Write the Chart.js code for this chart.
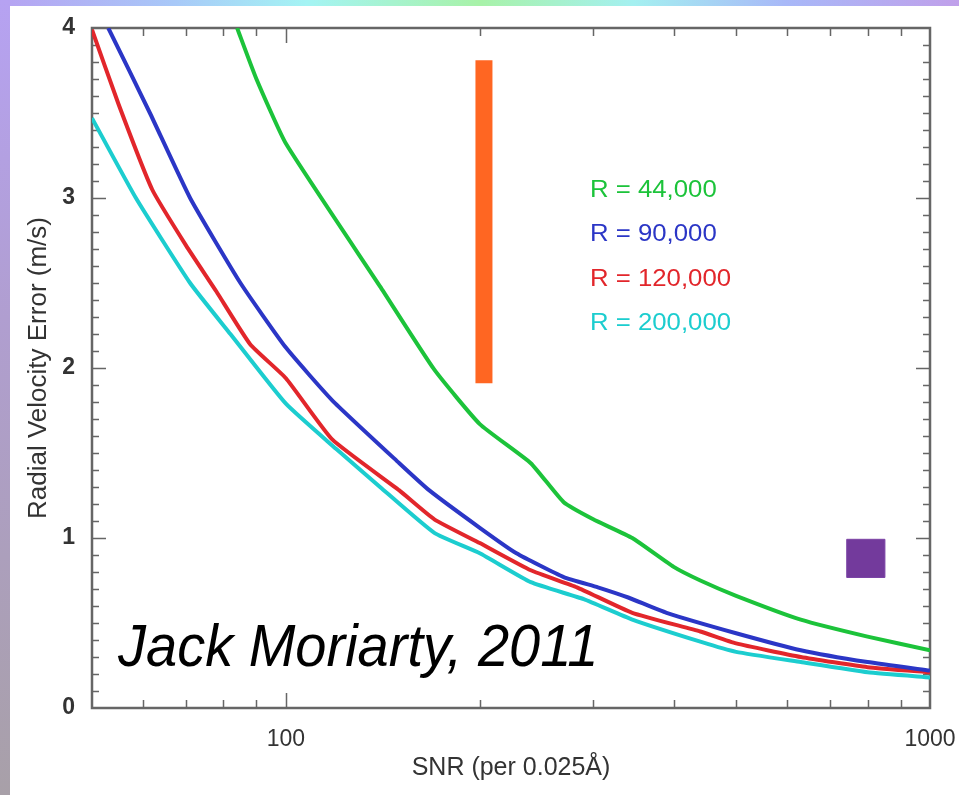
<!DOCTYPE html>
<html>
<head>
<meta charset="utf-8">
<script src="https://cdn.jsdelivr.net/npm/chart.js@4.4.0/dist/chart.umd.min.js"></script>
<style>
  html, body { margin: 0; padding: 0; width: 959px; height: 795px; overflow: hidden; }
  body { position: relative; background: #a8a0a8; }
  #topband { position: absolute; left: 0; top: 0; width: 959px; height: 8px;
    background: linear-gradient(to right, #b6a2f2 0%, #a8c8f8 18%, #a4f4f4 32%, #a8f2a8 50%, #a4f0f0 66%, #a8b8f8 82%, #c0a0ea 100%); }
  #leftband { position: absolute; left: 0; top: 0; width: 10px; height: 795px;
    background: linear-gradient(to bottom, #b6a2f2 0%, #b09ed0 40%, #a8a0a8 100%); }
  #panel { position: absolute; left: 10px; top: 6px; right: 0; bottom: 0; background: #fff; }
  #myChart { position: absolute; left: 0; top: 0; }
</style>
</head>
<body>
<div id="topband"></div>
<div id="leftband"></div>
<div id="panel"></div>
<canvas id="myChart" width="959" height="795"></canvas>
<script>
// values: SNR (per 0.025 A) vs radial velocity error (m/s)
const snr44k = [84, 90, 100, 140, 170, 200, 240, 270, 300, 345, 400, 440, 500, 630, 800, 1000];
const err44k = [4.0, 3.70, 3.32, 2.48, 1.99, 1.67, 1.44, 1.21, 1.11, 1.0, 0.83, 0.75, 0.66, 0.52, 0.42, 0.34];

const snr90k = [53, 61.5, 71, 85, 100, 118, 150, 167, 200, 228, 270, 305, 340, 390, 500, 630, 800, 1000];
const err90k = [4.0, 3.5, 3.0, 2.5, 2.12, 1.81, 1.44, 1.28, 1.06, 0.91, 0.77, 0.71, 0.65, 0.56, 0.44, 0.34, 0.27, 0.22];

const snr120k = [50, 55, 62, 70, 78, 88, 100, 118, 150, 170, 200, 240, 283, 345, 440, 500, 630, 800, 1000];
const err120k = [3.99, 3.55, 3.05, 2.72, 2.45, 2.14, 1.94, 1.58, 1.28, 1.11, 0.97, 0.81, 0.71, 0.56, 0.45, 0.38, 0.30, 0.24, 0.21];

const snr200k = [50, 58.5, 71, 82, 100, 120, 140, 170, 200, 240, 290, 345, 440, 500, 630, 800, 1000];
const err200k = [3.47, 3.0, 2.5, 2.20, 1.79, 1.52, 1.30, 1.03, 0.91, 0.74, 0.64, 0.52, 0.39, 0.33, 0.27, 0.21, 0.18];

const seriesLabels = ['R = 44,000', 'R = 90,000', 'R = 120,000', 'R = 200,000'];
const seriesColors = ['#1cc33a', '#2b36c6', '#e2262b', '#1ccdcf'];

// orange bar and purple square
const barSnr = [203, 203];
const barErr = [1.91, 3.81];
const squareSnr = [795];
const squareErr = [0.88];

const xTickLabels = [100, 1000];
const yTickLabels = [0, 1, 2, 3, 4];

function pts(xs, ys) { return xs.map((x, i) => ({ x: x, y: ys[i] })); }

const allSnr = [snr44k, snr90k, snr120k, snr200k];
const allErr = [err44k, err90k, err120k, err200k];

var datasets = [];
for (var i = 0; i < allSnr.length; i++) {
    datasets.push({
        label: seriesLabels[i],
        data: pts(allSnr[i], allErr[i]),
        borderColor: seriesColors[i],
        backgroundColor: seriesColors[i],
        borderWidth: 4,
        borderJoinStyle: 'round',
        pointRadius: 0,
        showLine: true,
        tension: 0.15
    });
}
datasets.push({
    label: 'bar',
    data: pts(barSnr, barErr),
    borderColor: '#ff6622',
    borderWidth: 17,
    borderCapStyle: 'butt',
    pointRadius: 0,
    showLine: true
});
datasets.push({
    label: 'square',
    data: pts(squareSnr, squareErr),
    backgroundColor: '#733a9c',
    borderColor: '#7c44a6',
    borderWidth: 1,
    pointStyle: 'rect',
    pointRadius: 27,
    showLine: false
});

// inward ticks on all four sides + frame + text notes
const framePlugin = {
    id: 'frame',
    beforeDatasetsDraw(chart) {
        const ctx = chart.ctx, a = chart.chartArea;
        const xs = chart.scales.x, ys = chart.scales.y;
        ctx.save();
        ctx.strokeStyle = '#666';
        ctx.lineWidth = 1.5;
        ctx.beginPath();
        var minors = [60, 70, 80, 90, 200, 300, 400, 500, 600, 700, 800, 900];
        minors.forEach(v => {
            const px = Math.round(xs.getPixelForValue(v)) + 0.5;
            ctx.moveTo(px, a.bottom); ctx.lineTo(px, a.bottom - 8);
            ctx.moveTo(px, a.top); ctx.lineTo(px, a.top + 8);
        });
        [100].forEach(v => {
            const px = Math.round(xs.getPixelForValue(v)) + 0.5;
            ctx.moveTo(px, a.bottom); ctx.lineTo(px, a.bottom - 15);
            ctx.moveTo(px, a.top); ctx.lineTo(px, a.top + 15);
        });
        for (var k = 1; k < 40; k++) {
            const py = Math.round(ys.getPixelForValue(k / 10)) + 0.5;
            const len = (k % 10 === 0) ? 14 : 7;
            ctx.moveTo(a.left, py); ctx.lineTo(a.left + len, py);
            ctx.moveTo(a.right, py); ctx.lineTo(a.right - len, py);
        }
        ctx.stroke();
        ctx.lineWidth = 2.5;
        ctx.strokeRect(a.left, a.top, a.right - a.left, a.bottom - a.top);
        ctx.restore();
    },
    afterDraw(chart) {
        const ctx = chart.ctx;
        ctx.save();
        ctx.textBaseline = 'alphabetic';
        ctx.font = '23px "Liberation Sans", Arial, sans-serif';
        const baselines = [197, 241, 286, 330];
        for (var i = 0; i < seriesLabels.length; i++) {
            ctx.save();
            ctx.translate(590, baselines[i]);
            ctx.scale(1.12, 1);
            ctx.fillStyle = seriesColors[i];
            ctx.fillText(seriesLabels[i], 0, 0);
            ctx.restore();
        }
        ctx.save();
        ctx.translate(118, 666);
        ctx.scale(1, 1.06);
        ctx.font = 'italic 56px "Liberation Sans", Arial, sans-serif';
        ctx.fillStyle = '#000';
        ctx.fillText('Jack Moriarty, 2011', 0, 0);
        ctx.restore();
        ctx.restore();
    }
};

const ctx = document.getElementById('myChart').getContext('2d');
const myChart = new Chart(ctx, {
    type: 'scatter',
    data: { datasets: datasets },
    options: {
        responsive: false,
        animation: false,
        layout: { padding: { top: 28, right: 29, left: 0, bottom: 0 } },
        plugins: { legend: { display: false }, tooltip: { enabled: false } },
        scales: {
            x: {
                type: 'logarithmic',
                min: 50,
                max: 1000,
                afterFit(s) { s.height = 87; s.paddingLeft = 0; s.paddingRight = 0; },
                grid: { display: false },
                border: { display: false },
                ticks: {
                    autoSkip: false,
                    maxRotation: 0,
                    padding: 10,
                    color: '#333',
                    font: { family: '"Liberation Sans", Arial', size: 23 },
                    callback: (v) => xTickLabels.includes(v) ? String(v) : ''
                },
                title: {
                    display: true,
                    text: 'SNR (per 0.025Å)',
                    color: '#333',
                    padding: { top: 0, bottom: 12 },
                    font: { family: '"Liberation Sans", Arial', size: 25 }
                }
            },
            y: {
                min: 0,
                max: 4,
                afterFit(s) { s.width = 92; s.paddingTop = 0; s.paddingBottom = 0; },
                grid: { display: false },
                border: { display: false },
                ticks: {
                    stepSize: 1,
                    padding: 9,
                    color: '#333',
                    font: { family: '"Liberation Sans", Arial', size: 23, weight: 'bold' },
                    callback: (v) => yTickLabels.includes(v) ? String(v) : ''
                },
                title: {
                    display: true,
                    text: 'Radial Velocity Error (m/s)',
                    color: '#333',
                    padding: { top: 23, bottom: 0 },
                    font: { family: '"Liberation Sans", Arial', size: 26 }
                }
            }
        }
    },
    plugins: [framePlugin]
});
</script>
</body>
</html>
